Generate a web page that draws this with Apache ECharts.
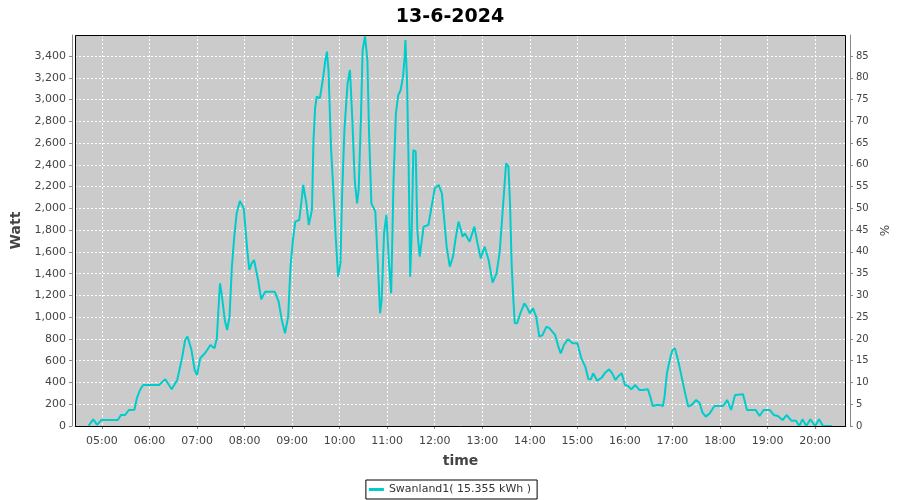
<!DOCTYPE html>
<html><head><meta charset="utf-8">
<script src="https://cdn.jsdelivr.net/npm/echarts@6/dist/echarts.min.js"></script>
<style>html,body{margin:0;padding:0;background:#fff}#c{width:900px;height:500px}</style>
</head><body><div id="c"></div>
<script>
const chartTitle = '13-6-2024';
const seriesName = 'Swanland1( 15.355 kWh )';
// minutes since midnight
const timeMinutes = [283,289,294,299,320,324,329,334,341,344,348,352,372,380,388,395,401,405,408,413,417,420,424,430,437,442,445,447,449,451,455,458,461,464,467,470,474,479,483,486,489,492,497,501,506,518,523,527,531,535,538,541,544,549,552,554,558,561,565,567,569,571,575,579,582,584,586,589,592,595,598,601,603,606,610,613,616,619,622,624,627,629,632,635,637,640,645,648,651,653,656,659,662,665,668,671,674,677,680,682,683,685,687,689,691,693,696,698,701,706,712,716,720,725,729,732,735,739,743,746,750,753,755,758,760,764,770,774,778,783,788,793,798,802,807,810,813,815,817,819,821,824,828,833,836,840,844,848,852,856,861,865,872,876,879,883,888,894,900,905,910,914,917,920,925,931,935,940,944,948,952,956,960,964,968,973,978,983,989,992,995,1000,1004,1008,1010,1013,1017,1020,1023,1027,1032,1036,1040,1044,1050,1054,1058,1062,1067,1073,1080,1084,1089,1094,1099,1109,1114,1120,1125,1130,1135,1143,1148,1153,1159,1164,1170,1176,1180,1184,1189,1194,1200,1205,1210,1221];
const watts = [0,61,10,55,55,101,101,147,150,254,331,377,377,429,337,423,622,790,821,698,515,469,622,668,744,714,806,1066,1311,1219,974,882,1004,1464,1740,1954,2068,2000,1648,1434,1495,1525,1342,1164,1234,1234,1143,974,851,1004,1464,1709,1878,1893,2077,2215,2046,1847,1985,2628,2919,3026,3010,3195,3363,3440,3256,2567,2169,1740,1372,1495,2107,2720,3149,3271,2812,2261,2046,2169,2874,3455,3584,3363,2720,2046,1970,1525,1036,1158,1771,1939,1525,1219,2261,2874,3042,3088,3210,3394,3547,3180,2414,1372,1801,2536,2521,1801,1556,1832,1847,2015,2184,2215,2138,1893,1648,1464,1556,1709,1878,1801,1740,1771,1786,1694,1832,1679,1541,1648,1525,1317,1403,1602,2107,2414,2383,2046,1495,1188,944,944,1036,1127,1097,1036,1081,1004,821,836,913,898,836,729,668,744,797,760,760,622,545,429,429,484,416,447,490,521,484,423,460,484,377,368,337,377,331,331,337,270,184,193,193,184,270,484,622,698,714,607,438,300,178,193,239,214,123,86,116,184,184,184,239,147,285,291,147,147,147,92,147,147,101,92,55,101,49,49,0,61,0,61,0,61,0,0];
const hourLabels = ['05:00','06:00','07:00','08:00','09:00','10:00','11:00','12:00','13:00','14:00','15:00','16:00','17:00','18:00','19:00','20:00'];
const wattTicks = [0,200,400,600,800,1000,1200,1400,1600,1800,2000,2200,2400,2600,2800,3000,3200,3400];
const percentTicks = [0,5,10,15,20,25,30,35,40,45,50,55,60,65,70,75,80,85];
const xMin = 266, xMax = 1239;   // axis range in minutes
const wattMax = 3593;             // left axis upper bound
const wattPerPercent = 40;        // 100% = 4000 W

const hourValues = hourLabels.map(s => { const p = s.split(':'); return (+p[0]) * 60 + (+p[1]); });
const pad = n => (n < 10 ? '0' : '') + n;
const fmtTime = v => pad(Math.floor(v / 60)) + ':' + pad(Math.round(v % 60));
const fontFam = '"DejaVu Sans", Tahoma, sans-serif';

const G = {left: 75, right: 54, top: 35, bottom: 74};
const W = 900, H = 500;

const chart = echarts.init(document.getElementById('c'), null, {renderer: 'canvas'});
chart.setOption({
  animation: false,
  backgroundColor: '#ffffff',
  title: {
    text: chartTitle, left: 'center', top: 3,
    textStyle: {fontSize: 19, fontWeight: 'bold', color: '#000', fontFamily: fontFam}
  },
  grid: {
    left: G.left, right: G.right, top: G.top, bottom: G.bottom,
    show: true, backgroundColor: '#cbcbcb', borderColor: '#000', borderWidth: 0
  },
  graphic: [{
    type: 'rect', z: 100, silent: true,
    shape: {x: G.left + 0.5, y: G.top + 0.5, width: W - G.left - G.right - 1, height: H - G.top - G.bottom},
    style: {fill: null, stroke: '#000', lineWidth: 1}
  }],
  legend: {
    bottom: 1, left: 'center',
    data: [seriesName],
    icon: 'rect', itemWidth: 15, itemHeight: 3, itemGap: 4,
    padding: [4, 6, 4, 3],
    borderColor: '#000', borderWidth: 1,
    textStyle: {fontSize: 11, color: '#333', fontFamily: fontFam}
  },
  xAxis: {
    type: 'value', min: xMin, max: xMax, offset: 4,
    name: 'time', nameLocation: 'middle', nameGap: 24,
    nameTextStyle: {fontSize: 14, fontWeight: 'bold', color: '#444', fontFamily: fontFam},
    axisLine: {show: true, lineStyle: {color: '#888'}},
    axisTick: {show: true, length: 3, customValues: hourValues, lineStyle: {color: '#888'}},
    axisLabel: {customValues: hourValues, formatter: v => fmtTime(v), fontSize: 11, color: '#444', margin: 6, fontFamily: fontFam},
    splitLine: {show: true, lineStyle: {color: '#ffffff', type: [2, 2], width: 1}}
  },
  yAxis: [{
    type: 'value', min: 0, max: wattMax, position: 'left', offset: 3,
    name: 'Watt', nameLocation: 'middle', nameGap: 43,
    nameTextStyle: {fontSize: 14, fontWeight: 'bold', color: '#444', fontFamily: fontFam},
    axisLine: {show: true, lineStyle: {color: '#888'}},
    axisTick: {show: true, length: 3, customValues: wattTicks, lineStyle: {color: '#888'}},
    axisLabel: {customValues: wattTicks, formatter: v => v.toLocaleString('en-US'), fontSize: 11, color: '#444', margin: 6, fontFamily: fontFam},
    splitLine: {show: true, lineStyle: {color: '#ffffff', type: [2, 2], width: 1}}
  }, {
    type: 'value', min: 0, max: wattMax / wattPerPercent, position: 'right', offset: 4,
    name: '%', nameLocation: 'middle', nameGap: 28,
    nameTextStyle: {fontSize: 12, color: '#444', fontFamily: fontFam},
    axisLine: {show: true, lineStyle: {color: '#888'}},
    axisTick: {show: true, length: 3, customValues: percentTicks, lineStyle: {color: '#888'}},
    axisLabel: {customValues: percentTicks, fontSize: 10, color: '#444', margin: 6, fontFamily: fontFam},
    splitLine: {show: false}
  }],
  series: [{
    name: seriesName, type: 'line', yAxisIndex: 0,
    data: timeMinutes.map((t, i) => [t, watts[i]]),
    showSymbol: false, symbol: 'none',
    lineStyle: {color: '#00cccc', width: 2},
    itemStyle: {color: '#00cccc'}
  }]
});
</script>
</body></html>
